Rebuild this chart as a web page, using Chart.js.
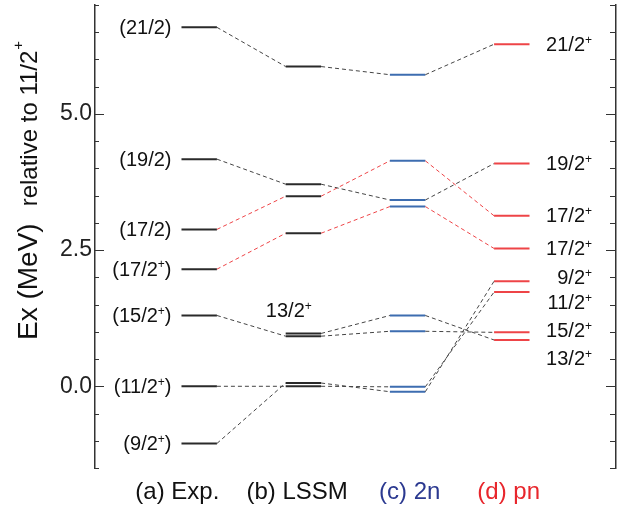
<!DOCTYPE html>
<html>
<head>
<meta charset="utf-8">
<script src="https://cdn.jsdelivr.net/npm/chart.js@4.4.0/dist/chart.umd.min.js"></script>
<style>
  html, body { margin: 0; padding: 0; background: #fff; }
</style>
</head>
<body>
<canvas id="myChart" width="634" height="515"></canvas>
<script>
// columnas del esquema de niveles
const columnas = ["(a) Exp.", "(b) LSSM", "(c) 2n", "(d) pn"]
const colorColumnas = ["#111111", "#111111", "#2b3990", "#e8262c"]

// mismo orden de estados en cada columna (null = no existe)
const estados = ["21/2", "19/2", "17/2", "17/2", "15/2", "13/2", "11/2", "9/2"]
const nivelesExp = [6.59, 4.17, 2.88, 2.15, 1.30, null, 0.00, -1.05]
const nivelesLSSM = [5.87, 3.71, 3.49, 2.81, 0.92, 0.97, 0.00, 0.06]
const niveles2n = [5.72, 3.42, 4.14, 3.30, 1.01, 1.30, -0.01, -0.10]
const nivelesPn = [6.28, 4.09, 3.13, 2.53, 0.99, 0.85, 1.73, 1.93]

// etiquetas de spin
const etiquetasExp = ["(21/2)", "(19/2)", "(17/2)", "(17/2+)", "(15/2+)", null, "(11/2+)", "(9/2+)"]
const etiquetasPn = ["21/2+", "19/2+", "17/2+", "17/2+", "15/2+", "13/2+", "11/2+", "9/2+"]
const alturaEtiquetasPn = [6.28, 4.09, 3.13, 2.53, 1.03, 0.51, 1.53, 2.00]
const conexionRoja = [false, false, true, true, false, false, false, false]

// eje y
const yMin = -1.5
const yMax = 7.0
const ticksMayores = [0.0, 2.5, 5.0]

const fuente = "'Liberation Sans', Arial, Helvetica, sans-serif"
const colorNivel = ["#2a2a2a", "#2a2a2a", "#3d6db0", "#ee4447"]
const medioAncho = 0.17

const niveles = [nivelesExp, nivelesLSSM, niveles2n, nivelesPn]
const datasets = []

// lineas punteadas entre columnas (van detras)
for (let c = 0; c < 3; c++) {
    estados.forEach((e, i) => {
        const a = niveles[c][i]
        const b = niveles[c + 1][i]
        if (a === null || b === null) return
        datasets.push({
            data: [{ x: c + 1 + medioAncho, y: a }, { x: c + 2 - medioAncho, y: b }],
            borderColor: conexionRoja[i] ? "#ee4447" : "#444444",
            borderWidth: 1,
            borderDash: [4, 3]
        })
    })
}

// niveles
niveles.forEach((col, c) => {
    col.forEach(v => {
        if (v === null) return
        datasets.push({
            data: [{ x: c + 1 - medioAncho, y: v }, { x: c + 1 + medioAncho, y: v }],
            borderColor: colorNivel[c],
            borderWidth: 2
        })
    })
})

function anchoSpin(ctx, txt, size) {
    const partes = txt.split("+")
    let w = 0
    partes.forEach((p, i) => {
        ctx.font = size + "px " + fuente
        w += ctx.measureText(p).width
        if (i < partes.length - 1) {
            ctx.font = Math.round(size * 0.6) + "px " + fuente
            w += ctx.measureText("+").width
        }
    })
    return w
}

function escribirSpin(ctx, txt, x, y, size, align) {
    const w = anchoSpin(ctx, txt, size)
    let px = x
    if (align === "right") px = x - w
    if (align === "center") px = x - w / 2
    ctx.textAlign = "left"
    ctx.textBaseline = "middle"
    const partes = txt.split("+")
    partes.forEach((p, i) => {
        ctx.font = size + "px " + fuente
        ctx.fillText(p, px, y)
        px += ctx.measureText(p).width
        if (i < partes.length - 1) {
            ctx.font = Math.round(size * 0.6) + "px " + fuente
            ctx.fillText("+", px, y - size * 0.25)
            px += ctx.measureText("+").width
        }
    })
}

const textosEsquema = {
    id: "textosEsquema",
    afterDraw(chart) {
        const ctx = chart.ctx
        const sx = chart.scales.x
        const sy = chart.scales.y
        const area = chart.chartArea
        ctx.save()

        // marcas hacia dentro en ambos ejes
        ctx.strokeStyle = "#333333"
        ctx.lineWidth = 1
        for (let v = yMin; v <= yMax + 1e-9; v += 0.5) {
            const py = Math.round(sy.getPixelForValue(v)) + 0.5
            const mayor = ticksMayores.some(t => Math.abs(t - v) < 1e-9)
            ctx.beginPath()
            ctx.moveTo(area.left, py)
            ctx.lineTo(area.left + (mayor ? 9 : 4), py)
            ctx.moveTo(area.right, py)
            ctx.lineTo(area.right - (mayor ? 10 : 6), py)
            ctx.stroke()
        }

        // etiquetas experimentales
        ctx.fillStyle = "#111111"
        etiquetasExp.forEach((t, i) => {
            if (!t) return
            escribirSpin(ctx, t, sx.getPixelForValue(1 - medioAncho) - 10, sy.getPixelForValue(nivelesExp[i]) + 1, 20, "right")
        })

        // etiquetas pn
        etiquetasPn.forEach((t, i) => {
            escribirSpin(ctx, t, sx.getPixelForValue(4.77), sy.getPixelForValue(alturaEtiquetasPn[i]) + 1, 20, "right")
        })

        // 13/2+ sobre LSSM
        escribirSpin(ctx, "13/2+", sx.getPixelForValue(1.86), sy.getPixelForValue(nivelesLSSM[5] + 0.4), 20, "center")

        // nombres de columnas
        const posColumnas = [0.79, 1.94, 3.02, 3.97]
        ctx.font = "24px " + fuente
        ctx.textAlign = "center"
        ctx.textBaseline = "alphabetic"
        columnas.forEach((n, i) => {
            ctx.fillStyle = colorColumnas[i]
            ctx.fillText(n, sx.getPixelForValue(posColumnas[i]), 499)
        })

        // titulo del eje y
        ctx.fillStyle = "#111111"
        ctx.translate(37, 340)
        ctx.rotate(-Math.PI / 2)
        ctx.textAlign = "left"
        ctx.font = "28px " + fuente
        ctx.fillText("Ex (MeV)", 0, 0)
        let avance = ctx.measureText("Ex (MeV)").width + 17
        ctx.font = "24px " + fuente
        ctx.fillText("relative to 11/2", avance, 0)
        avance += ctx.measureText("relative to 11/2").width + 1
        ctx.font = "15px " + fuente
        ctx.fillText("+", avance, -14)

        ctx.restore()
    }
}

const chart = document.querySelector("#myChart")
const grafica = new Chart(chart, {
    type: "line",
    data: { datasets: datasets },
    options: {
        responsive: false,
        animation: false,
        layout: { padding: { top: 5, bottom: 47, left: 0, right: 0 } },
        elements: {
            point: { radius: 0 },
            line: { tension: 0 }
        },
        plugins: {
            legend: { display: false },
            tooltip: { enabled: false }
        },
        scales: {
            x: { type: "linear", min: 0, max: 5, display: false },
            y: {
                position: "left",
                min: yMin,
                max: yMax,
                afterBuildTicks: s => { s.ticks = ticksMayores.map(v => ({ value: v })) },
                afterFit: s => { s.width = 95; s.paddingTop = 0; s.paddingBottom = 0 },
                ticks: {
                    padding: 3,
                    color: "#222222",
                    font: { family: fuente, size: 23 },
                    callback: v => Number(v).toFixed(1)
                },
                grid: { display: false, drawTicks: false },
                border: { display: true, color: "#333333", width: 1.5 }
            },
            y2: {
                position: "right",
                min: yMin,
                max: yMax,
                ticks: { display: false },
                afterFit: s => { s.width = 18; s.paddingTop = 0; s.paddingBottom = 0 },
                grid: { display: false, drawTicks: false },
                border: { display: true, color: "#333333", width: 1.5 }
            }
        }
    },
    plugins: [textosEsquema]
})
</script>
</body>
</html>
